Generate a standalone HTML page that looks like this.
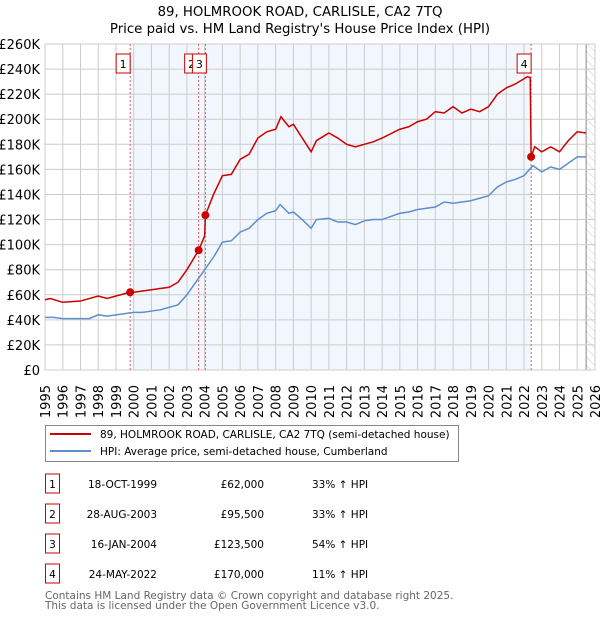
<!DOCTYPE html>
<html><head><meta charset="utf-8"><style>
body{margin:0;background:#fff;font-family:"DejaVu Sans","Liberation Sans",sans-serif;}
svg text{font-family:"DejaVu Sans","Liberation Sans",sans-serif;}
</style></head><body>
<svg id="c" width="600" height="620" xmlns="http://www.w3.org/2000/svg">
<defs><pattern id="hatch" width="6" height="6" patternUnits="userSpaceOnUse" patternTransform="rotate(-45)"><line x1="0" y1="0" x2="0" y2="6" stroke="#ccc" stroke-width="1"/></pattern></defs>
<text x="300" y="16" text-anchor="middle" font-size="13.3">89, HOLMROOK ROAD, CARLISLE, CA2 7TQ</text>
<text x="300" y="33" text-anchor="middle" font-size="13.3">Price paid vs. HM Land Registry's House Price Index (HPI)</text>
<g id="plot"></g>
<g>
<rect x="45.5" y="425.5" width="413" height="36" fill="#fff" stroke="#888"/>
<line x1="50" y1="434" x2="91" y2="434" stroke="#cc0000" stroke-width="2"/>
<text x="100" y="438" font-size="10.5">89, HOLMROOK ROAD, CARLISLE, CA2 7TQ (semi-detached house)</text>
<line x1="50" y1="451" x2="91" y2="451" stroke="#5b8fd0" stroke-width="2"/>
<text x="100" y="455" font-size="10.5">HPI: Average price, semi-detached house, Cumberland</text>
</g>
<g id="table"></g>
<text x="45" y="599" font-size="10.5" fill="#666">Contains HM Land Registry data © Crown copyright and database right 2025.</text>
<text x="45" y="609" font-size="10.5" fill="#666">This data is licensed under the Open Government Licence v3.0.</text>
</svg>
<script>
const hpiYears=[1995,1995.5,1996,1997,1997.5,1998,1998.5,1999,1999.5,2000,2000.5,2001,2001.5,2002,2002.5,2003,2003.5,2004,2004.5,2005,2005.5,2006,2006.5,2007,2007.5,2008,2008.25,2008.75,2009,2009.5,2010,2010.3,2011,2011.5,2012,2012.5,2013,2013.5,2014,2015,2015.5,2016,2017,2017.5,2018,2018.5,2019,2019.5,2020,2020.5,2021,2021.5,2022,2022.5,2023,2023.5,2024,2024.5,2025,2025.5];
const hpiValues=[42,42,41,41,41,44,43,44,45,46,46,47,48,50,52,60,70,80,90,102,103,110,113,120,125,127,132,125,126,120,113,120,121,118,118,116,119,120,120,125,126,128,130,134,133,134,135,137,139,146,150,152,155,163,158,162,160,165,170,170];
const redYears=[1995,1995.3,1996,1997,1998,1998.5,1999,1999.8,2000,2001,2001.5,2002,2002.5,2003,2003.66,2004.0,2004.04,2004.5,2005,2005.5,2006,2006.5,2007,2007.5,2008,2008.3,2008.75,2009,2009.5,2010,2010.3,2011,2011.5,2012,2012.5,2013,2013.5,2014,2015,2015.5,2016,2016.5,2017,2017.5,2018,2018.5,2019,2019.5,2020,2020.5,2021,2021.5,2022.2,2022.35,2022.4,2022.6,2023,2023.5,2024,2024.5,2025,2025.5];
const redValues=[56,57,54,55,59,57,59,62,62,64,65,66,70,80,95.5,107,123.5,140,155,156,168,172,185,190,192,202,194,196,185,174,183,189,185,180,178,180,182,185,192,194,198,200,206,205,210,205,208,206,210,220,225,228,234,233,170,178,174,178,174,183,190,189];
const saleYears=[1999.8,2003.66,2004.04,2022.4];
const salePrices=[62,95.5,123.5,170];
const saleLabels=['1','2','3','4'];
const saleDates=['18-OCT-1999','28-AUG-2003','16-JAN-2004','24-MAY-2022'];
const salePriceText=['£62,000','£95,500','£123,500','£170,000'];
const saleHpiText=['33% ↑ HPI','33% ↑ HPI','54% ↑ HPI','11% ↑ HPI'];
const yTicks=[0,20,40,60,80,100,120,140,160,180,200,220,240,260];
const yTickLabels=['£0','£20K','£40K','£60K','£80K','£100K','£120K','£140K','£160K','£180K','£200K','£220K','£240K','£260K'];
const xTicks=[1995,1996,1997,1998,1999,2000,2001,2002,2003,2004,2005,2006,2007,2008,2009,2010,2011,2012,2013,2014,2015,2016,2017,2018,2019,2020,2021,2022,2023,2024,2025,2026];

const X0=45,X1=595,Y0=370,Y1=44;
const sx=y=>X0+(y-1995)/(2026-1995)*(X1-X0);
const sy=v=>Y0-v/260*(Y0-Y1);
const NS='http://www.w3.org/2000/svg';
const plot=document.getElementById('plot');
function mk(tag,attrs,parent){const e=document.createElementNS(NS,tag);for(const k in attrs)e.setAttribute(k,attrs[k]);(parent||plot).appendChild(e);return e;}

let e=mk('rect',{x:X0,y:Y1,width:X1-X0,height:Y0-Y1,fill:'#fff'});


e=mk('rect',{x:sx(saleYears[0]),y:Y1,width:sx(saleYears[3])-sx(saleYears[0]),height:Y0-Y1,fill:'#eef3fc',opacity:0.75});


e=mk('rect',{x:sx(2025.5),y:Y1,width:X1-sx(2025.5),height:Y0-Y1,fill:'url(#hatch)'});


mk('line',{x1:sx(2025.5),y1:Y1,x2:sx(2025.5),y2:Y0,stroke:'#888'});

yTicks.forEach((v,i)=>{
  const g=mk('line',{x1:X0,x2:X1,y1:sy(v),y2:sy(v),stroke:'#ccc'});
  
  
  const t=mk('text',{x:40,y:sy(v)+5,'text-anchor':'end','font-size':13});
  t.textContent=yTickLabels[i];
  
  
});
xTicks.forEach(y=>{
  const g=mk('line',{x1:sx(y),x2:sx(y),y1:Y1,y2:Y0,stroke:'#ccc'});
  
  
  const t=mk('text',{x:0,y:0,'font-size':13,transform:`translate(${sx(y)+5},${Y0+15}) rotate(-90)`,'text-anchor':'end'});
  t.textContent=y;
  
  
});
mk('rect',{x:X0,y:Y1,width:X1-X0,height:Y0-Y1,fill:'none',stroke:'#ccc'});

saleYears.forEach((y,i)=>{
  const l=mk('line',{x1:sx(y),x2:sx(y),y1:Y1,y2:Y0,stroke:'#e06060','stroke-dasharray':'2,2'});
  
  
});

const hp=mk('polyline',{points:hpiYears.map((y,i)=>sx(y)+','+sy(hpiValues[i])).join(' '),fill:'none',stroke:'#5b8fd0','stroke-width':1.5});


const rp=mk('polyline',{points:redYears.map((y,i)=>sx(y)+','+sy(redValues[i])).join(' '),fill:'none',stroke:'#cc0000','stroke-width':1.5});



saleYears.forEach((y,i)=>{
  const c=mk('circle',{cx:sx(y),cy:sy(salePrices[i]),r:4,fill:'#cc0000'});
  
  
  const bx=[sx(y)-14,sx(y)-14,sx(y)-8,sx(y)-14][i];
  const r=mk('rect',{x:i===2?sx(y)-13:bx,y:54,width:14,height:19,fill:'#fff',stroke:'#cc0000'});
  
  
  const t=mk('text',{x:(i===2?sx(y)-13:bx)+7,y:68,'text-anchor':'middle','font-size':11});
  t.textContent=saleLabels[i];
  
  
});

const tb=document.getElementById('table');
saleLabels.forEach((s,i)=>{
  const y=474+i*30;
  const r=mk('rect',{x:45.5,y:y,width:14,height:19,fill:'#fff',stroke:'#cc0000'},tb);
  
  
  const cells=[[52.5,s,'middle'],[157,saleDates[i],'end'],[264,salePriceText[i],'end'],[312,saleHpiText[i],'start']];
  cells.forEach(([x,txt,a])=>{
    const t=mk('text',{x:x,y:y+14,'text-anchor':a,'font-size':10.5},tb);
    t.textContent=txt;
    
    
  });
});
</script>
</body></html>
